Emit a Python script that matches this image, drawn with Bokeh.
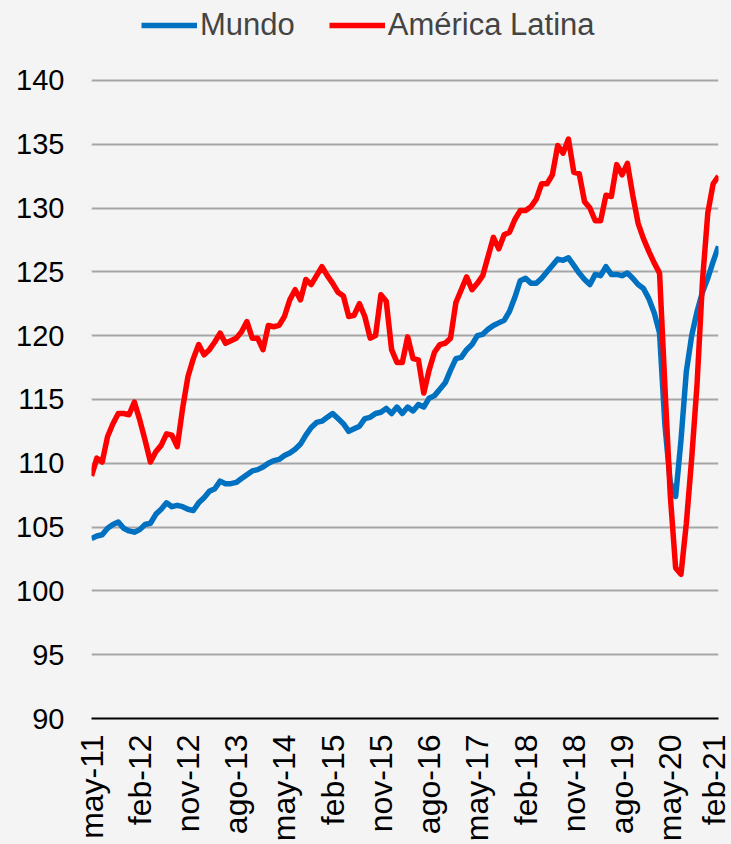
import math
from bokeh.plotting import figure
from bokeh.models import Range1d, FixedTicker, Legend, LegendItem, ColumnDataSource
from bokeh.embed import file_html
from bokeh.resources import INLINE

# Monthly index, may-11 .. feb-21 (118 months)
mundo = [
    104.1, 104.3, 104.4, 104.9, 105.2, 105.4, 104.9, 104.7, 104.6, 104.8,
    105.2, 105.3, 106.0, 106.4, 106.9, 106.6, 106.7, 106.6, 106.4, 106.3,
    106.9, 107.3, 107.8, 108.0, 108.6, 108.4, 108.4, 108.5, 108.8, 109.1,
    109.4, 109.5, 109.7, 110.0, 110.2, 110.3, 110.6, 110.8, 111.1, 111.5,
    112.2, 112.8, 113.2, 113.3, 113.6, 113.9, 113.5, 113.1, 112.5, 112.7,
    112.9, 113.5, 113.6, 113.9, 114.0, 114.3, 113.9, 114.4, 113.9, 114.4,
    114.1, 114.6, 114.4, 115.1, 115.3, 115.8, 116.3, 117.3, 118.2, 118.3,
    118.9, 119.3, 120.0, 120.1, 120.5, 120.8, 121.0, 121.2, 121.9, 123.0,
    124.3, 124.5, 124.1, 124.1, 124.5, 125.0, 125.5, 126.0, 125.9, 126.1,
    125.5, 124.9, 124.4, 124.0, 124.8, 124.7, 125.4, 124.8, 124.8, 124.7,
    124.9, 124.5, 124.0, 123.7, 122.9, 121.8, 120.2, 113.0, 108.5, 107.4,
    111.8, 117.2, 120.0, 121.9, 123.4, 124.5, 125.8, 127.0,
]
america_latina = [
    109.0, 110.4, 110.1, 112.1, 113.1, 113.9, 113.9, 113.8, 114.8, 113.4,
    111.8, 110.1, 110.9, 111.4, 112.3, 112.2, 111.3, 114.3, 116.8, 118.2,
    119.3, 118.5, 118.9, 119.5, 120.2, 119.4, 119.6, 119.8, 120.3, 121.1,
    119.8, 119.8, 118.9, 120.8, 120.7, 120.8, 121.5, 122.8, 123.6, 122.8,
    124.4, 124.0, 124.7, 125.4, 124.7, 124.1, 123.4, 123.1, 121.5, 121.6,
    122.5, 121.5, 119.8, 120.0, 123.2, 122.7, 118.9, 117.9, 117.9, 119.9,
    118.2, 118.1, 115.5, 117.3, 118.7, 119.3, 119.4, 119.8, 122.6, 123.6,
    124.6, 123.6, 124.1, 124.7, 126.2, 127.7, 126.8, 127.9, 128.1, 129.1,
    129.8, 129.8, 130.1, 130.7, 131.9, 131.9, 132.6, 134.9, 134.3, 135.4,
    132.8, 132.7, 130.5, 130.0, 129.0, 129.0, 131.0, 130.9, 133.4, 132.6,
    133.5, 131.0, 128.8, 127.6, 126.6, 125.7, 124.9, 116.0, 107.5, 101.8,
    101.3, 105.3, 110.4, 116.2, 124.2, 129.6, 131.9, 132.5,
]
tick_labels = ["may-11", "feb-12", "nov-12", "ago-13", "may-14", "feb-15", "nov-15",
               "ago-16", "may-17", "feb-18", "nov-18", "ago-19", "may-20", "feb-21"]
y_ticks = [90, 95, 100, 105, 110, 115, 120, 125, 130, 135, 140]
series_names = ["Mundo", "América Latina"]
series_colors = ["#0070C0", "#FF0000"]

months = list(range(len(mundo)))
tick_pos = list(range(0, len(mundo), 9))

BG = "#f4f4f4"
FONT = "Liberation Sans"

# frame spans the full height; the top part (above 140) holds the legend
p = figure(width=731, height=844, output_backend="svg", toolbar_location=None,
           x_range=Range1d(0, len(mundo) - 1), y_range=Range1d(90, 146.26),
           min_border_left=91, min_border_right=13, min_border_top=0, min_border_bottom=125)
p.background_fill_color = BG
p.border_fill_color = BG
p.outline_line_color = None

src = ColumnDataSource(dict(x=months, m=mundo, a=america_latina))
r1 = p.line("x", "m", source=src, line_color=series_colors[0], line_width=5.5, line_join="round")
r2 = p.line("x", "a", source=src, line_color=series_colors[1], line_width=5.5, line_join="round")

# axes
p.yaxis.ticker = FixedTicker(ticks=y_ticks)
p.yaxis.axis_line_color = None
p.yaxis.major_tick_line_color = None
p.yaxis.minor_tick_line_color = None
p.yaxis.major_tick_out = 0
p.yaxis.major_tick_in = 0
p.yaxis.major_label_text_font = FONT
p.yaxis.major_label_text_font_size = "29px"
p.yaxis.major_label_text_color = "black"
p.yaxis.major_label_standoff = 27

p.xaxis.ticker = FixedTicker(ticks=tick_pos)
p.xaxis.major_label_overrides = {t: l for t, l in zip(tick_pos, tick_labels)}
p.xaxis.major_label_orientation = math.pi / 2
p.xaxis.axis_line_color = "black"
p.xaxis.axis_line_width = 2
p.xaxis.major_tick_line_color = None
p.xaxis.minor_tick_line_color = None
p.xaxis.major_tick_out = 0
p.xaxis.major_tick_in = 0
p.xaxis.major_label_text_font = FONT
p.xaxis.major_label_text_font_size = "32px"
p.xaxis.major_label_text_color = "black"
p.xaxis.major_label_standoff = 16

p.xgrid.grid_line_color = None
p.ygrid.ticker = FixedTicker(ticks=y_ticks)
p.ygrid.grid_line_color = "#a6a6a6"
p.ygrid.grid_line_width = 2

legend = Legend(items=[LegendItem(label=series_names[0], renderers=[r1]),
                       LegendItem(label=series_names[1], renderers=[r2])],
                location=(50, 675), orientation="horizontal",
                background_fill_alpha=0, border_line_color=None,
                label_text_font=FONT, label_text_font_size="31px",
                glyph_width=56, glyph_height=20, label_standoff=3,
                spacing=34, padding=2, margin=0)
p.add_layout(legend)

html = file_html(p, INLINE)
html = html.replace("<head>", "<head><style>body{background:%s;}</style>" % BG, 1)
open("out.html", "w").write(html)
